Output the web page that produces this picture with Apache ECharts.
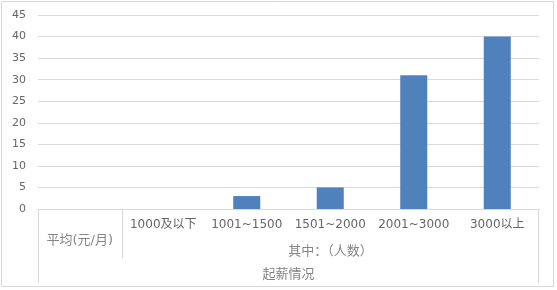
<!DOCTYPE html>
<html>
<head>
<meta charset="utf-8">
<script src="https://cdn.jsdelivr.net/npm/echarts@6/dist/echarts.min.js"></script>
<style>
html,body{margin:0;padding:0;background:#fff;}
#c{width:557px;height:290px;}
</style>
</head>
<body>
<div id="c"></div>
<script>
const categories = ["平均(元/月)", "1000及以下", "1001~1500", "1501~2000", "2001~3000", "3000以上"];
const groupLabel = "其中：（人数）";
const axisTitle = "起薪情况";
const values = [null, 0, 3, 5, 31, 40];
const yTicks = { min: 0, max: 45, interval: 5 };

const FONT = '"DejaVu Sans", "Noto Sans CJK SC", sans-serif';
const CJK = '"Noto Sans CJK SC", sans-serif';
const TXT = '#666666';
const TXT2 = '#858585';
const LINE = '#d9d9d9';

const chart = echarts.init(document.getElementById('c'));
chart.setOption({
  animation: false,
  backgroundColor: '#fff',
  grid: { left: 38, right: 18, top: 15, bottom: 81 },
  xAxis: {
    type: 'category',
    data: categories,
    axisLine: { lineStyle: { color: LINE } },
    axisTick: { show: false },
    axisLabel: {
      margin: 10, color: TXT, fontSize: 12, fontFamily: FONT, interval: 0,
      formatter: (v, i) => i === 0 ? '' : v
    }
  },
  yAxis: {
    type: 'value',
    min: yTicks.min, max: yTicks.max, interval: yTicks.interval,
    axisLine: { show: false },
    axisTick: { show: false },
    splitLine: { lineStyle: { color: LINE } },
    axisLabel: { margin: 12, color: TXT, fontSize: 11, fontFamily: FONT }
  },
  series: [{
    type: 'bar',
    data: values,
    barWidth: 27,
    itemStyle: { color: '#4f81bd' }
  }]
});

const px = i => chart.convertToPixel({ xAxisIndex: 0 }, i);
const band = px(1) - px(0);
const left = Math.round(px(0) - band / 2) + 0.5;
const right = Math.round(px(categories.length - 1) + band / 2) - 0.5;
const div = Math.round(px(0) + band / 2) + 0.5;
const y0 = Math.round(chart.convertToPixel({ yAxisIndex: 0 }, 0));
const lineStyle = { stroke: LINE, lineWidth: 1 };
const textStyle = (t, x, y, font, color) => ({ text: t, x: x, y: y, align: 'center', verticalAlign: 'middle', fill: color, font: font });

chart.setOption({
  graphic: [
    { type: 'rect', shape: { x: 1.5, y: 1.5, width: 552, height: 285 }, style: { fill: null, stroke: LINE, lineWidth: 1 }, silent: true },
    { type: 'line', shape: { x1: left, y1: y0, x2: left, y2: y0 + 74 }, style: lineStyle },
    { type: 'line', shape: { x1: div, y1: y0, x2: div, y2: y0 + 49 }, style: lineStyle },
    { type: 'line', shape: { x1: right, y1: y0, x2: right, y2: y0 + 74 }, style: lineStyle },
    { type: 'text', style: textStyle(categories[0], px(0), y0 + 32, '13px ' + FONT, TXT2) },
    { type: 'text', style: textStyle(groupLabel, (div + right) / 2, y0 + 41, '13px ' + CJK, TXT2) },
    { type: 'text', style: textStyle(axisTitle, (left + right) / 2, y0 + 64, '13px ' + CJK, TXT2) }
  ]
});
</script>
</body>
</html>
